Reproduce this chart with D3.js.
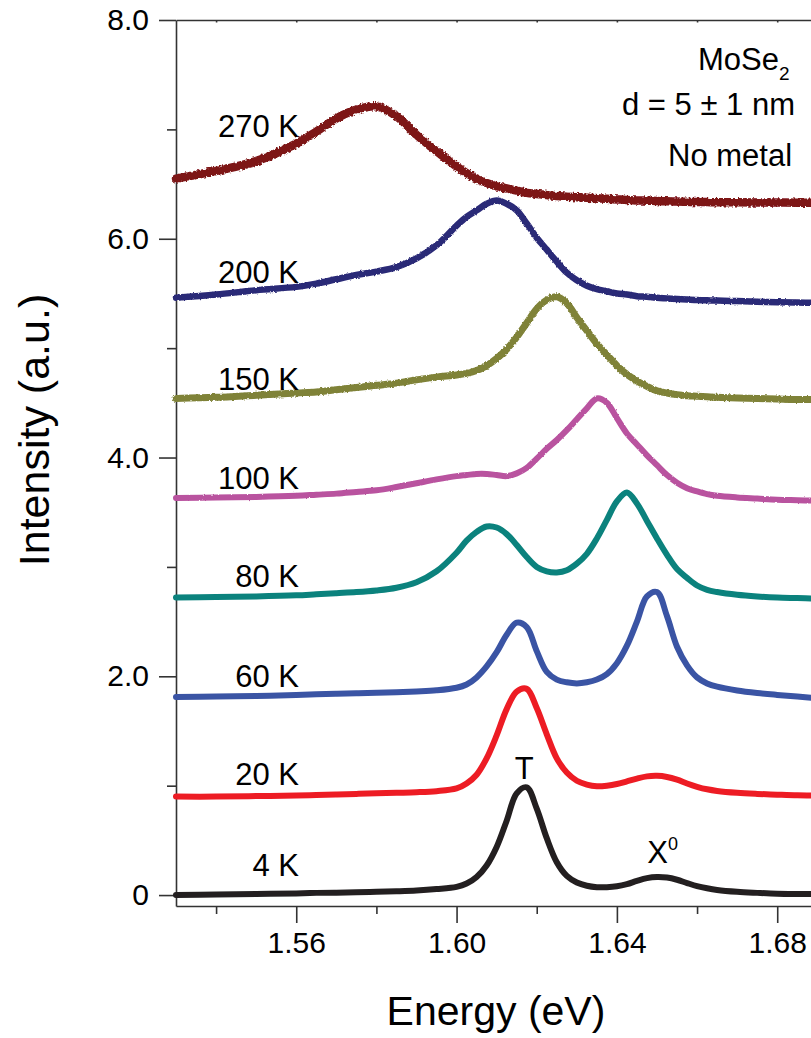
<!DOCTYPE html>
<html>
<head>
<meta charset="utf-8">
<script src="https://cdn.jsdelivr.net/npm/d3@7"></script>
<style>
  html, body { margin: 0; padding: 0; background: #fff; }
  svg { display: block; font-family: "Liberation Sans", Arial, Helvetica, sans-serif; }
</style>
</head>
<body>
<svg id="chart" width="811" height="1038"></svg>
<script>
// Photon energy grid (eV), denser across the exciton / trion region
const energies = [1.530, 1.540, 1.550, 1.560, 1.565, 1.570, 1.575, 1.580, 1.585, 1.590, 1.595,
  1.600, 1.6025, 1.605, 1.6075, 1.610, 1.6125, 1.615, 1.6175, 1.620, 1.6225, 1.625, 1.6275, 1.630,
  1.6325, 1.635, 1.6375, 1.640, 1.6425, 1.645, 1.6475, 1.650, 1.6525, 1.655, 1.6575, 1.660, 1.6625, 1.665,
  1.670, 1.675, 1.680, 1.685, 1.690];

// PL intensity (a.u., vertically offset) at each temperature
const pl4K = [0.00, 0.005, 0.01, 0.015, 0.02, 0.022, 0.025, 0.03, 0.035, 0.042, 0.055,
  0.075, 0.105, 0.165, 0.27, 0.44, 0.68, 0.93, 0.985, 0.79, 0.52, 0.30, 0.175, 0.115, 0.085, 0.072, 0.072,
  0.08, 0.10, 0.13, 0.155, 0.165, 0.16, 0.14, 0.11, 0.082, 0.062, 0.047,
  0.03, 0.02, 0.012, 0.01, 0.01];
const pl20K = [0.90, 0.90, 0.905, 0.91, 0.915, 0.92, 0.925, 0.93, 0.935, 0.94, 0.95,
  0.975, 1.02, 1.10, 1.25, 1.46, 1.70, 1.86, 1.885, 1.71, 1.47, 1.25, 1.12, 1.045, 1.01, 0.995, 1.00,
  1.015, 1.04, 1.065, 1.085, 1.09, 1.08, 1.055, 1.02, 0.99, 0.967, 0.952,
  0.935, 0.925, 0.918, 0.912, 0.91];
const pl60K = [1.81, 1.815, 1.82, 1.83, 1.835, 1.84, 1.845, 1.85, 1.855, 1.862, 1.872,
  1.895, 1.925, 1.99, 2.09, 2.22, 2.38, 2.49, 2.45, 2.23, 2.04, 1.97, 1.945, 1.935, 1.945, 1.97, 2.02,
  2.12, 2.28, 2.50, 2.73, 2.77, 2.55, 2.27, 2.10, 1.99, 1.935, 1.905,
  1.87, 1.847, 1.83, 1.815, 1.80];
const pl80K = [2.72, 2.725, 2.73, 2.74, 2.75, 2.76, 2.77, 2.785, 2.81, 2.86, 2.96,
  3.13, 3.24, 3.32, 3.37, 3.36, 3.30, 3.20, 3.09, 3.00, 2.96, 2.95, 2.97, 3.03, 3.12, 3.26, 3.43,
  3.60, 3.68, 3.58, 3.42, 3.26, 3.11, 2.98, 2.90, 2.83, 2.79, 2.77,
  2.745, 2.73, 2.72, 2.715, 2.71];
const pl100K = [3.63, 3.635, 3.64, 3.65, 3.66, 3.67, 3.685, 3.70, 3.73, 3.765, 3.80,
  3.83, 3.84, 3.85, 3.85, 3.84, 3.83, 3.855, 3.905, 3.99, 4.08, 4.16, 4.25, 4.35, 4.45, 4.54, 4.50,
  4.36, 4.22, 4.12, 4.02, 3.93, 3.84, 3.77, 3.72, 3.69, 3.665, 3.65,
  3.635, 3.625, 3.615, 3.61, 3.605];
const pl150K = [4.54, 4.55, 4.57, 4.59, 4.60, 4.62, 4.64, 4.66, 4.68, 4.71, 4.735,
  4.755, 4.77, 4.795, 4.84, 4.905, 4.99, 5.10, 5.23, 5.36, 5.44, 5.47, 5.41, 5.28, 5.16, 5.04, 4.94,
  4.84, 4.76, 4.70, 4.65, 4.61, 4.59, 4.575, 4.565, 4.56, 4.555, 4.55,
  4.545, 4.54, 4.535, 4.53, 4.53];
const pl200K = [5.46, 5.49, 5.53, 5.56, 5.59, 5.63, 5.67, 5.70, 5.74, 5.82, 5.94,
  6.12, 6.20, 6.26, 6.32, 6.35, 6.32, 6.26, 6.14, 6.01, 5.90, 5.79, 5.69, 5.62, 5.57, 5.54, 5.52,
  5.50, 5.49, 5.475, 5.47, 5.46, 5.455, 5.45, 5.445, 5.44, 5.437, 5.435,
  5.43, 5.425, 5.42, 5.417, 5.415];
const pl270K = [6.55, 6.62, 6.71, 6.87, 6.98, 7.10, 7.18, 7.21, 7.12, 6.95, 6.80,
  6.66, 6.60, 6.55, 6.51, 6.48, 6.46, 6.44, 6.42, 6.41, 6.40, 6.39, 6.385, 6.38, 6.375, 6.37, 6.365,
  6.36, 6.355, 6.35, 6.348, 6.345, 6.343, 6.34, 6.338, 6.336, 6.335, 6.334,
  6.333, 6.332, 6.331, 6.33, 6.33];

const temperatures = ["4 K", "20 K", "60 K", "80 K", "100 K", "150 K", "200 K", "270 K"];
const seriesValues = [pl4K, pl20K, pl60K, pl80K, pl100K, pl150K, pl200K, pl270K];

// Axis ticks
const xTickValues = [1.56, 1.60, 1.64, 1.68];
const xTickLabels = ["1.56", "1.60", "1.64", "1.68"];
const xMinorTicks = [1.54, 1.58, 1.62, 1.66];
const yTickValues = [0, 2, 4, 6, 8];
const yTickLabels = ["0", "2.0", "4.0", "6.0", "8.0"];
const yMinorTicks = [1, 3, 5, 7];

// Styling and label placement (kept apart from the values)
const seriesColors = ["#231f20", "#ed1c24", "#3a54a4", "#0b827d", "#b9529f", "#7f8238", "#2b2a77", "#7d1518"];
const seriesWidths = [6, 6, 6, 6, 6, 7, 6.5, 8.5];
const seriesRoughness = [0, 0, 0, 0, 2, 3, 2.5, 4];   // edge jitter of the noisier high-T spectra
const labelHeights = [0.17, 1.01, 1.90, 2.82, 3.71, 4.62, 5.60, 6.93];

const svg = d3.select("#chart");
const W = 811, H = 1038;
svg.append("rect").attr("width", W).attr("height", H).attr("fill", "#fff");

// Rough-edge filters for the noisy traces
const defs = svg.append("defs");
[2, 2.5, 3, 4].forEach(s => {
  const f = defs.append("filter").attr("id", "rough" + String(s).replace(".", "_"))
    .attr("filterUnits", "userSpaceOnUse")
    .attr("x", 0).attr("y", 0).attr("width", W).attr("height", H);
  f.append("feTurbulence").attr("type", "fractalNoise").attr("baseFrequency", 0.45)
    .attr("numOctaves", 2).attr("seed", 3).attr("result", "noise");
  f.append("feDisplacementMap").attr("in", "SourceGraphic").attr("in2", "noise")
    .attr("scale", s).attr("xChannelSelector", "R").attr("yChannelSelector", "G");
});

const x = d3.scaleLinear().domain([1.53, 1.69]).range([176, 817.3]);
const y = d3.scaleLinear().domain([-0.1, 8.0]).range([906, 20]);

const axisColor = "#333";

function styleAxis(g) {
  g.selectAll(".domain").attr("stroke", axisColor).attr("stroke-width", 1.6);
  g.selectAll(".tick line").attr("stroke", axisColor).attr("stroke-width", 1.6);
  g.selectAll("text").attr("fill", "#000").attr("font-size", 30)
    .attr("font-family", "'Liberation Sans', Arial, sans-serif");
}

// Bottom axis
const gx = svg.append("g").attr("transform", "translate(0,906)")
  .call(d3.axisBottom(x).tickValues(xTickValues)
    .tickFormat((d, i) => xTickLabels[i]).tickSize(17).tickSizeOuter(0).tickPadding(9));
styleAxis(gx);
const gxm = svg.append("g").attr("transform", "translate(0,906)")
  .call(d3.axisBottom(x).tickValues(xMinorTicks).tickFormat("").tickSize(8).tickSizeOuter(0));
styleAxis(gxm);
gxm.select(".domain").remove();

// Top frame with short ticks
const gt = svg.append("g").attr("transform", "translate(0,20)")
  .call(d3.axisTop(x).tickValues(xMinorTicks.concat(xTickValues)).tickFormat("").tickSize(-2.5).tickSizeOuter(0));
styleAxis(gt);

// Left axis
const gy = svg.append("g").attr("transform", "translate(176,0)")
  .call(d3.axisLeft(y).tickValues(yTickValues)
    .tickFormat((d, i) => yTickLabels[i]).tickSize(17).tickSizeOuter(0).tickPadding(10));
styleAxis(gy);
const gym = svg.append("g").attr("transform", "translate(176,0)")
  .call(d3.axisLeft(y).tickValues(yMinorTicks).tickFormat("").tickSize(9).tickSizeOuter(0));
styleAxis(gym);
gym.select(".domain").remove();

// Spectra
const line = d3.line()
  .x((d, i) => x(energies[i]))
  .y(d => y(d))
  .curve(d3.curveCatmullRom.alpha(0.5));

const curves = svg.append("g");
seriesValues.forEach((vals, k) => {
  const p = curves.append("path")
    .datum(vals)
    .attr("d", line)
    .attr("fill", "none")
    .attr("stroke", seriesColors[k])
    .attr("stroke-width", seriesWidths[k])
    .attr("stroke-linecap", "round")
    .attr("stroke-linejoin", "round");
  if (seriesRoughness[k] > 0) {
    p.attr("filter", "url(#rough" + String(seriesRoughness[k]).replace(".", "_") + ")");
  }
});

// Temperature labels
const labels = svg.append("g").attr("font-size", 31).attr("fill", "#000");
temperatures.forEach((t, k) => {
  labels.append("text")
    .attr("x", x(1.5607))
    .attr("y", y(labelHeights[k]))
    .attr("text-anchor", "end")
    .text(t);
});

// Peak labels
svg.append("text")
  .attr("x", x(1.6169)).attr("y", y(1.06))
  .attr("text-anchor", "middle").attr("font-size", 31).text("T");
const x0 = svg.append("text")
  .attr("x", x(1.6476)).attr("y", y(0.29)).attr("font-size", 31);
x0.append("tspan").text("X");
x0.append("tspan").attr("font-size", 18).attr("dy", -13).text("0");

// Sample description
const note = svg.append("g").attr("font-size", 31).attr("fill", "#000");
const mose = note.append("text").attr("x", 698).attr("y", 70);
mose.append("tspan").text("MoSe");
mose.append("tspan").attr("font-size", 19).attr("dy", 10).text("2");
note.append("text").attr("x", 622).attr("y", 115).text("d = 5 \u00b1 1 nm");
note.append("text").attr("x", 668).attr("y", 166).text("No metal");

// Axis titles
svg.append("text")
  .attr("x", 496).attr("y", 1025)
  .attr("text-anchor", "middle").attr("font-size", 41)
  .text("Energy (eV)");
svg.append("text")
  .attr("transform", "translate(49,430) rotate(-90)")
  .attr("text-anchor", "middle").attr("font-size", 43)
  .text("Intensity (a.u.)");
</script>
</body>
</html>
